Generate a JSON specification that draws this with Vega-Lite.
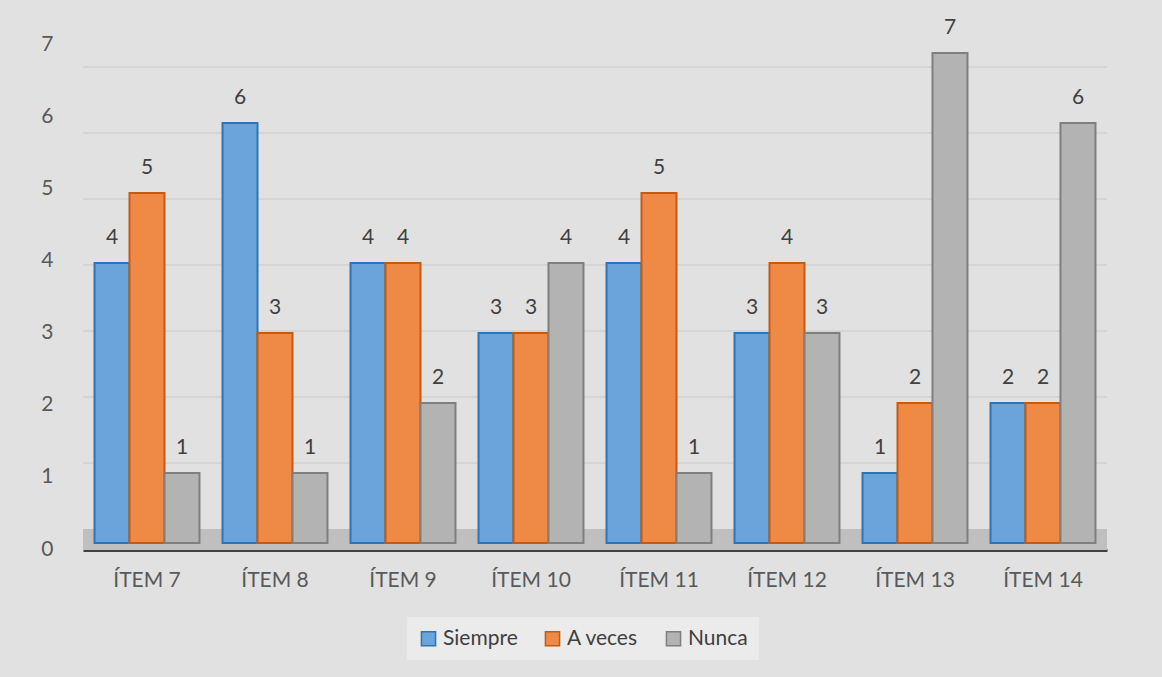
{
  "$schema": "https://vega.github.io/schema/vega-lite/v6.json",
  "width": 1024,
  "height": 497,
  "autosize": {"type": "none"},
  "padding": {"left": 83, "top": 53, "right": 55, "bottom": 127},
  "background": "#e1e1e1",
  "config": {
    "font": "Lato",
    "view": {"stroke": null}
  },
  "data": {
    "values": [
      {"item": "ÍTEM 7", "serie": "Siempre", "valor": 4},
      {"item": "ÍTEM 7", "serie": "A veces", "valor": 5},
      {"item": "ÍTEM 7", "serie": "Nunca", "valor": 1},
      {"item": "ÍTEM 8", "serie": "Siempre", "valor": 6},
      {"item": "ÍTEM 8", "serie": "A veces", "valor": 3},
      {"item": "ÍTEM 8", "serie": "Nunca", "valor": 1},
      {"item": "ÍTEM 9", "serie": "Siempre", "valor": 4},
      {"item": "ÍTEM 9", "serie": "A veces", "valor": 4},
      {"item": "ÍTEM 9", "serie": "Nunca", "valor": 2},
      {"item": "ÍTEM 10", "serie": "Siempre", "valor": 3},
      {"item": "ÍTEM 10", "serie": "A veces", "valor": 3},
      {"item": "ÍTEM 10", "serie": "Nunca", "valor": 4},
      {"item": "ÍTEM 11", "serie": "Siempre", "valor": 4},
      {"item": "ÍTEM 11", "serie": "A veces", "valor": 5},
      {"item": "ÍTEM 11", "serie": "Nunca", "valor": 1},
      {"item": "ÍTEM 12", "serie": "Siempre", "valor": 3},
      {"item": "ÍTEM 12", "serie": "A veces", "valor": 4},
      {"item": "ÍTEM 12", "serie": "Nunca", "valor": 3},
      {"item": "ÍTEM 13", "serie": "Siempre", "valor": 1},
      {"item": "ÍTEM 13", "serie": "A veces", "valor": 2},
      {"item": "ÍTEM 13", "serie": "Nunca", "valor": 7},
      {"item": "ÍTEM 14", "serie": "Siempre", "valor": 2},
      {"item": "ÍTEM 14", "serie": "A veces", "valor": 2},
      {"item": "ÍTEM 14", "serie": "Nunca", "valor": 6}
    ]
  },
  "layer": [
    {
      "description": "Value axis along the front edge",
      "data": {"values": [{"nivel": 0}, {"nivel": 7}]},
      "mark": {"type": "rule", "opacity": 0},
      "encoding": {
        "y": {
          "field": "nivel",
          "type": "quantitative",
          "scale": {"domain": [0, 7], "range": [496, -9], "nice": false, "zero": false},
          "axis": {
            "title": null,
            "values": [0, 1, 2, 3, 4, 5, 6, 7],
            "format": "d",
            "grid": false,
            "domain": false,
            "ticks": false,
            "labelFontSize": 21,
            "labelColor": "#595959",
            "labelPadding": 30
          }
        }
      }
    },
    {
      "description": "Gridlines on the back wall",
      "data": {"values": [{"nivel": 1}, {"nivel": 2}, {"nivel": 3}, {"nivel": 4}, {"nivel": 5}, {"nivel": 6}, {"nivel": 7}]},
      "mark": {"type": "rule", "color": "#d0d0d0", "strokeWidth": 1.5},
      "encoding": {
        "y": {
          "field": "nivel",
          "type": "quantitative",
          "scale": {"domain": [0, 7], "range": [476, 14], "nice": false, "zero": false},
          "axis": null
        }
      }
    },
    {
      "layer": [
        {
          "description": "Floor under the bars",
          "data": {"values": [{}]},
          "mark": {"type": "rect", "color": "#bfbfbf"},
          "encoding": {
            "y": {"datum": -0.1, "type": "quantitative"},
            "y2": {"datum": 0.2}
          }
        },
        {
          "mark": {"type": "bar", "strokeWidth": 2},
          "encoding": {
            "x": {
              "field": "item",
              "type": "nominal",
              "sort": null,
              "scale": {"paddingInner": 0.18, "paddingOuter": 0.09},
              "axis": {
                "title": null,
                "labelAngle": 0,
                "labelFontSize": 21,
                "labelColor": "#595959",
                "labelPadding": 19,
                "ticks": false,
                "domainColor": "#404040",
                "domainWidth": 3
              }
            },
            "xOffset": {
              "field": "serie",
              "type": "nominal",
              "scale": {"domain": ["Siempre", "A veces", "Nunca"], "paddingInner": 0, "paddingOuter": 0}
            },
            "y": {
              "field": "valor",
              "type": "quantitative",
              "scale": {"domain": [-0.1, 7], "nice": false, "zero": false},
              "axis": {"title": null, "labels": false, "domain": false, "ticks": false, "grid": false}
            },
            "y2": {"datum": 0},
            "fill": {
              "field": "serie",
              "type": "nominal",
              "scale": {"domain": ["Siempre", "A veces", "Nunca"], "range": ["#6aa4da", "#ef8946", "#b3b3b3"]},
              "legend": {
                "title": null,
                "orient": "none",
                "legendX": 324,
                "legendY": 564,
                "direction": "horizontal",
                "fillColor": "#ebebeb",
                "padding": 11,
                "symbolType": "square",
                "symbolSize": 200,
                "symbolStrokeWidth": 1.5,
                "labelFontSize": 21,
                "labelColor": "#404040",
                "labelOffset": 4,
                "columnPadding": 24
              }
            },
            "stroke": {
              "field": "serie",
              "type": "nominal",
              "scale": {"domain": ["Siempre", "A veces", "Nunca"], "range": ["#2e75b6", "#c55a11", "#7f7f7f"]},
              "legend": {
                "title": null,
                "orient": "none",
                "legendX": 324,
                "legendY": 564,
                "direction": "horizontal",
                "fillColor": "#ebebeb",
                "padding": 11,
                "symbolType": "square",
                "symbolSize": 200,
                "symbolStrokeWidth": 1.5,
                "labelFontSize": 21,
                "labelColor": "#404040",
                "labelOffset": 4,
                "columnPadding": 24
              }
            }
          }
        },
        {
          "mark": {"type": "text", "dy": -19, "baseline": "alphabetic", "fontSize": 21, "color": "#404040"},
          "encoding": {
            "x": {"field": "item", "type": "nominal", "sort": null},
            "xOffset": {"field": "serie", "type": "nominal"},
            "y": {"field": "valor", "type": "quantitative"},
            "text": {"field": "valor", "type": "quantitative"}
          }
        }
      ]
    }
  ],
  "resolve": {"scale": {"y": "independent"}}
}
